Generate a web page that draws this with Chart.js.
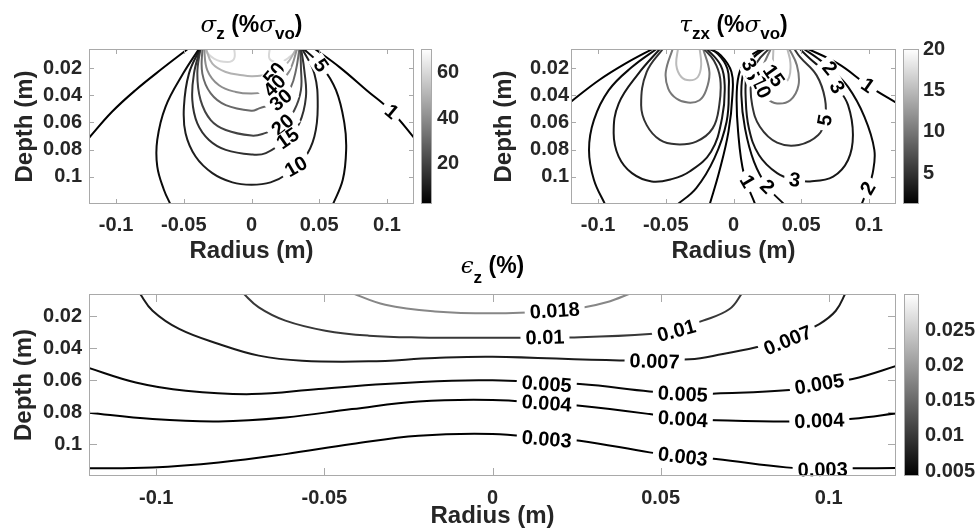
<!DOCTYPE html>
<html>
<head>
<meta charset="utf-8">
<title>Stress and strain contours</title>
<script src="https://cdn.jsdelivr.net/npm/chart.js@4.4.1/dist/chart.umd.min.js"></script>
<style>
    body { margin: 0; background: #fff; }
    #page { position: relative; width: 977px; height: 529px; overflow: hidden; background: #fff; }
    #page canvas { position: absolute; }
</style>
</head>
<body>
<div id="page">
    <canvas id="szChart" width="420" height="270" style="left:0;top:0"></canvas>
    <canvas id="szBar" width="75" height="270" style="left:415px;top:0"></canvas>
    <canvas id="tzChart" width="420" height="270" style="left:490px;top:0"></canvas>
    <canvas id="tzBar" width="80" height="270" style="left:897px;top:0"></canvas>
    <canvas id="ezChart" width="900" height="274" style="left:0;top:255px"></canvas>
    <canvas id="ezBar" width="80" height="274" style="left:897px;top:255px"></canvas>
</div>
<script>
// Axis ticks
const radiusTicks = [-0.1, -0.05, 0, 0.05, 0.1];
const depthTicks = [0.02, 0.04, 0.06, 0.08, 0.1];

// ---- sigma_z (% sigma_vo) contours, points are [radius, depth] in m ----
const szClim = [2, 70.6];
const szBarTicks = [20, 40, 60];
const sz1L = [[-0.121, 0.0725], [-0.103, 0.0522], [-0.0857, 0.0363], [-0.0659, 0.0204], [-0.0458, 0.005]];
const sz1R = [[0.0455, 0.005], [0.0652, 0.0195], [0.0852, 0.0365], [0.1035, 0.052], [0.121, 0.0725]];
const sz5L = [[-0.0382, 0.005], [-0.0505, 0.0241], [-0.0635, 0.0485], [-0.0696, 0.0729], [-0.0696, 0.0924], [-0.0647, 0.1095], [-0.0595, 0.121]];
const sz5R = [[0.0375, 0.005], [0.0513, 0.018], [0.0624, 0.0363], [0.0686, 0.0607], [0.0699, 0.0802], [0.0674, 0.1022], [0.0598, 0.121]];
const sz10 = [[-0.0376, 0.005], [-0.0462, 0.0241], [-0.0499, 0.0485], [-0.0487, 0.068], [-0.0413, 0.0851], [-0.0289, 0.0973], [-0.0141, 0.1041], [0, 0.1058],
              [0.0141, 0.1041], [0.0254, 0.0985], [0.039, 0.0863], [0.0464, 0.0705], [0.0489, 0.0485], [0.0464, 0.0241], [0.037, 0.005]];
const sz15 = [[-0.0376, 0.005], [-0.0425, 0.0241], [-0.0437, 0.0436], [-0.04, 0.0607], [-0.0314, 0.0729], [-0.019, 0.0802], [0, 0.0836],
              [0.0106, 0.0826], [0.0267, 0.0717], [0.0353, 0.0607], [0.0402, 0.0412], [0.039, 0.0217], [0.0365, 0.005]];
const sz20 = [[-0.0376, 0.005], [-0.04, 0.0241], [-0.0376, 0.0436], [-0.0301, 0.0583], [-0.019, 0.0656], [0, 0.0697],
              [0.0081, 0.0685], [0.023, 0.0619], [0.0316, 0.051], [0.0365, 0.0363], [0.0365, 0.0193], [0.036, 0.005]];
const sz30 = [[-0.0363, 0.005], [-0.0363, 0.0241], [-0.0301, 0.0387], [-0.019, 0.0473], [0, 0.0514],
              [0.0056, 0.0497], [0.0217, 0.0436], [0.0291, 0.0339], [0.0328, 0.0217], [0.0355, 0.005]];
const sz40 = [[-0.0351, 0.005], [-0.0326, 0.0217], [-0.024, 0.0327], [-0.0116, 0.0376], [0, 0.0388],
              [0.009, 0.0375], [0.017, 0.033], [0.0275, 0.023], [0.034, 0.005]];
const sz50 = [[-0.0339, 0.005], [-0.0289, 0.0168], [-0.019, 0.0229], [-0.0067, 0.0253], [0, 0.026],
              [0.008, 0.0255], [0.0167, 0.0238], [0.026, 0.017], [0.0335, 0.005]];
const sz60L = [[-0.0363, 0.005], [-0.0277, 0.0131], [-0.0178, 0.0156], [-0.0128, 0.0131], [-0.0128, 0.005]];
const sz60R = [[0.0135, 0.005], [0.0135, 0.0135], [0.021, 0.0155], [0.028, 0.012], [0.0355, 0.005]];
const szLabels = [['50', 0.0167, 0.0241, -50], ['40', 0.017, 0.033, -45], ['30', 0.0217, 0.0436, -40], ['20', 0.023, 0.0619, -40],
                  ['15', 0.0267, 0.0717, -35], ['10', 0.0328, 0.0925, -30], ['5', 0.0513, 0.018, 55], ['1', 0.1035, 0.052, 40]];

// ---- tau_zx (% sigma_vo) contours ----
const tzClim = [1.3, 20];
const tzBarTicks = [5, 10, 15, 20];
const tz1OutL = [[-0.121, 0.0455], [-0.0994, 0.029], [-0.0799, 0.0168], [-0.058, 0.005]];
const tz2OutL = [[-0.0555, 0.005], [-0.075, 0.0193], [-0.0921, 0.0363], [-0.1031, 0.0583], [-0.1067, 0.0802], [-0.1031, 0.1022], [-0.0945, 0.121]];
const tz3L = [[-0.0535, 0.005], [-0.0702, 0.0241], [-0.0848, 0.0461], [-0.0885, 0.068], [-0.0848, 0.0851], [-0.075, 0.0973], [-0.0604, 0.1034],
              [-0.045, 0.1015], [-0.0324, 0.0961], [-0.0166, 0.0815], [-0.0085, 0.0571], [-0.0065, 0.0327], [-0.0095, 0.018], [-0.0205, 0.005]];
const tz5L = [[-0.0515, 0.005], [-0.0641, 0.0229], [-0.0682, 0.0473], [-0.0641, 0.062], [-0.0543, 0.0729], [-0.0422, 0.0761], [-0.0275, 0.0741],
              [-0.0154, 0.0644], [-0.0105, 0.0473], [-0.0098, 0.0278], [-0.0145, 0.0144], [-0.0227, 0.005]];
const tz10L = [[-0.0446, 0.005], [-0.05, 0.0229], [-0.0482, 0.0351], [-0.0422, 0.0424], [-0.0336, 0.0454], [-0.0251, 0.0437],
               [-0.0202, 0.0363], [-0.0178, 0.0229], [-0.0227, 0.005]];
const tz15L = [[-0.0409, 0.005], [-0.0422, 0.018], [-0.0385, 0.0266], [-0.0324, 0.029], [-0.0263, 0.0266], [-0.0239, 0.018], [-0.0251, 0.005]];
const tz2InL = [[-0.0422, 0.121], [-0.0275, 0.1083], [-0.0141, 0.0863], [-0.0051, 0.0595], [-0.0035, 0.0351], [-0.0045, 0.0205], [-0.0117, 0.0095], [-0.0202, 0.005]];
const tz1InL = [[-0.0178, 0.121], [-0.0105, 0.0961], [-0.0037, 0.0668], [-0.0008, 0.04], [-0.0015, 0.0229], [-0.0093, 0.0107], [-0.019, 0.005]];
const tz1InR = [[0.0163, 0.121], [0.0078, 0.0985], [0.0034, 0.0668], [0.0024, 0.0376], [0.0049, 0.0217], [0.0114, 0.012], [0.0224, 0.005]];
const tz2InR = [[0.0382, 0.121], [0.0249, 0.1071], [0.0151, 0.0888], [0.0085, 0.0644], [0.0058, 0.04], [0.0075, 0.0229], [0.0139, 0.0132], [0.0236, 0.005]];
const tz3R = [[0.0245, 0.005], [0.0145, 0.012], [0.0098, 0.0229], [0.009, 0.042], [0.0114, 0.0644], [0.0188, 0.0839], [0.0322, 0.0973], [0.0451, 0.1022],
              [0.0565, 0.1034], [0.0736, 0.0998], [0.0846, 0.0876], [0.0882, 0.0693], [0.0846, 0.0473], [0.0765, 0.0339], [0.0663, 0.0217], [0.0565, 0.0132], [0.048, 0.005]];
const tz5R = [[0.027, 0.005], [0.0175, 0.0156], [0.013, 0.0302], [0.0138, 0.0473], [0.0195, 0.0632], [0.0322, 0.0749], [0.0482, 0.0766],
              [0.0626, 0.0693], [0.0675, 0.0583], [0.0675, 0.0424], [0.0614, 0.0254], [0.0492, 0.012], [0.0443, 0.005]];
const tz10R = [[0.028, 0.005], [0.0215, 0.02], [0.02, 0.0339], [0.0249, 0.0424], [0.0322, 0.0461], [0.0419, 0.0437], [0.048, 0.0327], [0.0468, 0.018], [0.0407, 0.005]];
const tz15R = [[0.0295, 0.005], [0.0292, 0.018], [0.0305, 0.0275], [0.036, 0.031], [0.041, 0.027], [0.042, 0.016], [0.0395, 0.005]];
const tz2OutR = [[0.0504, 0.005], [0.0626, 0.0132], [0.0711, 0.02], [0.0846, 0.0339], [0.0967, 0.0559], [0.104, 0.0802], [0.1028, 0.0973], [0.0992, 0.1083], [0.0943, 0.121]];
const tz1OutR = [[0.0529, 0.005], [0.0772, 0.0168], [0.0992, 0.0327], [0.121, 0.046]];
const tzLabels = [['15', 0.0297, 0.0255, 55], ['10', 0.0205, 0.034, 65], ['5', 0.0135, 0.0245, 65], ['3', 0.0115, 0.0175, 60],
                  ['2', 0.0711, 0.02, 50], ['3', 0.0765, 0.0339, 60], ['1', 0.0992, 0.0327, 35], ['5', 0.0675, 0.0583, -80],
                  ['3', 0.0451, 0.1022, 8], ['1', 0.0102, 0.1034, 60], ['2', 0.0249, 0.1071, 45], ['2', 0.0992, 0.1083, -60]];

// ---- epsilon_z (%) contours ----
const ezClim = [0.0043, 0.0302];
const ezBarTicks = [0.005, 0.01, 0.015, 0.02, 0.025];
const ez018 = [[-0.0423, 0.005], [-0.0319, 0.0127], [-0.0171, 0.0169], [0, 0.0181], [0.0171, 0.0168], [0.027, 0.0144], [0.0339, 0.0112], [0.0418, 0.005]];
const ez010 = [[-0.0744, 0.005], [-0.0695, 0.0144], [-0.0616, 0.0227], [-0.0497, 0.029], [-0.0368, 0.0321], [-0.022, 0.0332], [0, 0.0334],
               [0.023, 0.0332], [0.0467, 0.0311], [0.0547, 0.028], [0.0626, 0.0227], [0.0705, 0.0154], [0.0744, 0.005]];
const ez007 = [[-0.1051, 0.005], [-0.1011, 0.0165], [-0.0932, 0.0279], [-0.0814, 0.0373], [-0.0695, 0.0446], [-0.0566, 0.0478], [-0.0368, 0.0482],
               [-0.0171, 0.0461], [0, 0.0453], [0.0378, 0.0476], [0.0586, 0.0469], [0.0685, 0.0436], [0.0784, 0.0394], [0.0878, 0.0342],
               [0.0972, 0.0248], [0.1021, 0.0165], [0.1051, 0.005]];
const ez005 = [[-0.121, 0.0517], [-0.1061, 0.0614], [-0.0912, 0.0666], [-0.0715, 0.0687], [-0.0517, 0.0655], [-0.0319, 0.0624], [-0.0121, 0.0603],
               [0, 0.0601], [0.026, 0.0624], [0.0467, 0.067], [0.0566, 0.0687], [0.0665, 0.0683], [0.0883, 0.0662], [0.0972, 0.0624],
               [0.1071, 0.0593], [0.121, 0.0505]];
const ez004 = [[-0.121, 0.0801], [-0.1011, 0.0843], [-0.0814, 0.0858], [-0.0616, 0.0833], [-0.0418, 0.0781], [-0.022, 0.0733], [0, 0.0724],
               [0.0161, 0.0745], [0.026, 0.076], [0.0467, 0.0812], [0.0566, 0.0843], [0.0665, 0.0851], [0.0873, 0.0859], [0.0972, 0.0854],
               [0.1071, 0.0842], [0.121, 0.0805]];
const ez003 = [[-0.121, 0.1152], [-0.1011, 0.1146], [-0.0814, 0.1115], [-0.0616, 0.1063], [-0.0418, 0.1], [-0.022, 0.0948], [0, 0.0937],
               [0.0161, 0.0965], [0.026, 0.0979], [0.0467, 0.1052], [0.0566, 0.1079], [0.0665, 0.1094], [0.0873, 0.1146], [0.0982, 0.1155],
               [0.1071, 0.1152], [0.121, 0.115]];
const ezLabels = [['0.018', 0.0185, 0.0164, -4], ['0.01', 0.0156, 0.0332, -2], ['0.01', 0.0547, 0.029, -15],
                  ['0.007', 0.0482, 0.0482, 2], ['0.007', 0.0878, 0.0350, -22],
                  ['0.005', 0.0161, 0.0624, 4], ['0.005', 0.0566, 0.0687, 3], ['0.005', 0.0972, 0.0624, -9],
                  ['0.004', 0.0161, 0.0745, 4], ['0.004', 0.0566, 0.0843, 4], ['0.004', 0.0972, 0.0854, -2],
                  ['0.003', 0.0161, 0.0969, 5], ['0.003', 0.0566, 0.1079, 7], ['0.003', 0.0982, 0.1160, -1]];

const ink = '#262626';
const frameGray = '#a9a9a9';
const sans = '"Liberation Sans", Arial, Helvetica, sans-serif';
const tickFont = { family: sans, size: 20, weight: 'bold' };
const axisFont = { family: sans, size: 24, weight: 'bold', lineHeight: 1.1 };

function fmt(v) {
    return String(Number(Number(v).toFixed(4)));
}

function grayFor(level, clim) {
    const t = Math.max(0, Math.min(1, (level - clim[0]) / (clim[1] - clim[0])));
    const g = Math.round(t * 255);
    return `rgb(${g},${g},${g})`;
}

// labels written along the contours, on a white patch that breaks the line
const contourLabelPlugin = {
    id: 'contourLabels',
    afterDatasetsDraw(chart, args, opts) {
        if (!opts.labels) return;
        const { ctx, scales: { x, y } } = chart;
        ctx.save();
        ctx.font = `bold 20px ${sans}`;
        ctx.textAlign = 'center';
        ctx.textBaseline = 'middle';
        opts.labels.forEach(([txt, r, d, rot]) => {
            const w = ctx.measureText(txt).width;
            ctx.save();
            ctx.translate(x.getPixelForValue(r), y.getPixelForValue(d));
            ctx.rotate(rot * Math.PI / 180);
            ctx.fillStyle = '#fff';
            ctx.fillRect(-w / 2 - 5, -8, w + 10, 17);
            ctx.fillStyle = '#000';
            ctx.fillText(txt, 0, 1);
            ctx.restore();
        });
        ctx.restore();
    }
};

// MATLAB style box with inner tick marks
const framePlugin = {
    id: 'frame',
    afterDraw(chart, args, opts) {
        const { ctx, chartArea: a, scales: { x, y } } = chart;
        const len = opts.tick || 5;
        ctx.save();
        ctx.strokeStyle = frameGray;
        ctx.lineWidth = 1;
        ctx.beginPath();
        x.ticks.forEach(t => {
            const p = Math.round(x.getPixelForValue(t.value)) + 0.5;
            ctx.moveTo(p, a.top); ctx.lineTo(p, a.top + len);
            ctx.moveTo(p, a.bottom); ctx.lineTo(p, a.bottom - len);
        });
        y.ticks.forEach(t => {
            const p = Math.round(y.getPixelForValue(t.value)) + 0.5;
            ctx.moveTo(a.left, p); ctx.lineTo(a.left + len, p);
            ctx.moveTo(a.right, p); ctx.lineTo(a.right - len, p);
        });
        ctx.stroke();
        ctx.strokeRect(Math.round(a.left) + 0.5, Math.round(a.top) + 0.5, Math.round(a.width) - 1, Math.round(a.height) - 1);
        ctx.restore();
    }
};

// title with greek letters and subscripts
const richTitlePlugin = {
    id: 'richTitle',
    afterDraw(chart, args, opts) {
        if (!opts.parts) return;
        const { ctx, chartArea: a } = chart;
        const fonts = {
            n: `bold 23px ${sans}`,
            g: 'italic 23px "DejaVu Serif", "Liberation Serif", serif',
            s: `bold 17px ${sans}`
        };
        ctx.save();
        ctx.fillStyle = '#000';
        ctx.textBaseline = 'alphabetic';
        const widths = opts.parts.map(([t, f]) => { ctx.font = fonts[f]; return ctx.measureText(t).width; });
        let px = (a.left + a.right) / 2 - widths.reduce((s, w) => s + w, 0) / 2;
        opts.parts.forEach(([t, f], i) => {
            ctx.font = fonts[f];
            ctx.fillText(t, px, opts.baseline + (f === 's' ? opts.subDrop : 0));
            px += widths[i];
        });
        ctx.restore();
    }
};

// grey colour ramp of a colorbar
const colorbarPlugin = {
    id: 'colorbarFill',
    beforeDatasetsDraw(chart) {
        const { ctx, chartArea: a } = chart;
        const grad = ctx.createLinearGradient(0, a.bottom, 0, a.top);
        grad.addColorStop(0, '#000');
        grad.addColorStop(1, '#fff');
        ctx.save();
        ctx.fillStyle = grad;
        ctx.fillRect(a.left, a.top, a.width, a.height);
        ctx.strokeStyle = frameGray;
        ctx.lineWidth = 1;
        ctx.strokeRect(Math.round(a.left) + 0.5, Math.round(a.top) + 0.5, Math.round(a.width) - 1, Math.round(a.height) - 1);
        ctx.restore();
    }
};

function contourChart(id, cfg) {
    return new Chart(document.getElementById(id), {
        type: 'scatter',
        data: {
            datasets: cfg.pieces.map(([level, pts]) => ({
                data: pts.map(([r, d]) => ({ x: r, y: d })),
                showLine: true,
                borderColor: grayFor(level, cfg.clim),
                borderWidth: 2,
                pointRadius: 0,
                tension: 0.4,
                clip: 0
            }))
        },
        options: {
            responsive: false,
            animation: false,
            events: [],
            layout: { padding: cfg.padding },
            plugins: {
                legend: { display: false },
                tooltip: { enabled: false },
                contourLabels: { labels: cfg.labels },
                frame: { tick: cfg.tickLen },
                richTitle: { parts: cfg.title, baseline: cfg.titleBase, subDrop: cfg.subDrop }
            },
            scales: {
                x: {
                    type: 'linear', min: -0.12, max: 0.12,
                    afterBuildTicks: s => { s.ticks = radiusTicks.map(v => ({ value: v })); },
                    afterFit: s => { s.height = cfg.xHeight; },
                    grid: { display: false, drawTicks: false },
                    border: { display: false },
                    ticks: { font: tickFont, color: ink, padding: cfg.xTickPad, maxRotation: 0, autoSkip: false, callback: fmt },
                    title: { display: true, text: 'Radius (m)', font: axisFont, color: ink, padding: { top: 0, bottom: cfg.xTitlePad } }
                },
                y: {
                    type: 'linear', reverse: true, min: 0.006, max: 0.12,
                    afterBuildTicks: s => { s.ticks = depthTicks.map(v => ({ value: v })); },
                    afterFit: s => { s.width = cfg.yWidth; },
                    grid: { display: false, drawTicks: false },
                    border: { display: false },
                    ticks: { font: tickFont, color: ink, padding: cfg.yTickPad, autoSkip: false, callback: fmt },
                    title: { display: true, text: 'Depth (m)', font: axisFont, color: ink, padding: { top: cfg.yTitlePad, bottom: 0 } }
                }
            }
        },
        plugins: [contourLabelPlugin, framePlugin, richTitlePlugin]
    });
}

function colorbar(id, cfg) {
    return new Chart(document.getElementById(id), {
        type: 'scatter',
        data: { datasets: [] },
        options: {
            responsive: false,
            animation: false,
            events: [],
            layout: { padding: cfg.padding },
            plugins: { legend: { display: false }, tooltip: { enabled: false } },
            scales: {
                x: { display: false, min: 0, max: 1 },
                y: {
                    position: 'right', min: cfg.clim[0], max: cfg.clim[1],
                    afterBuildTicks: s => { s.ticks = cfg.ticks.map(v => ({ value: v })); },
                    afterFit: s => { s.width = cfg.width; },
                    grid: { display: false, drawTicks: false },
                    border: { display: false },
                    ticks: { font: tickFont, color: ink, padding: cfg.pad, autoSkip: false, callback: fmt }
                }
            }
        },
        plugins: [colorbarPlugin]
    });
}

contourChart('szChart', {
    clim: szClim,
    pieces: [[1, sz1L], [1, sz1R], [5, sz5L], [5, sz5R], [10, sz10], [15, sz15], [20, sz20],
             [30, sz30], [40, sz40], [50, sz50], [60, sz60L], [60, sz60R]],
    labels: szLabels,
    padding: { top: 49, right: 6, bottom: 0, left: 0 },
    xHeight: 66, yWidth: 89, xTickPad: 9, yTickPad: 7, xTitlePad: 5, yTitlePad: 12, tickLen: 5,
    title: [['σ', 'g'], ['z', 's'], [' (%', 'n'], ['σ', 'g'], ['vo', 's'], [')', 'n']],
    titleBase: 32, subDrop: 7
});
colorbar('szBar', { clim: szClim, ticks: szBarTicks, padding: { top: 49, right: 0, bottom: 66, left: 6 }, width: 58, pad: 5 });

contourChart('tzChart', {
    clim: tzClim,
    pieces: [[1, tz1OutL], [2, tz2OutL], [3, tz3L], [5, tz5L], [10, tz10L], [15, tz15L], [2, tz2InL], [1, tz1InL],
             [1, tz1InR], [2, tz2InR], [3, tz3R], [5, tz5R], [10, tz10R], [15, tz15R], [2, tz2OutR], [1, tz1OutR]],
    labels: tzLabels,
    padding: { top: 49, right: 14, bottom: 0, left: 0 },
    xHeight: 66, yWidth: 81, xTickPad: 9, yTickPad: 2, xTitlePad: 5, yTitlePad: 1, tickLen: 5,
    title: [['τ', 'g'], ['zx', 's'], [' (%', 'n'], ['σ', 'g'], ['vo', 's'], [')', 'n']],
    titleBase: 32, subDrop: 7
});
colorbar('tzBar', { clim: tzClim, ticks: tzBarTicks, padding: { top: 49, right: 0, bottom: 66, left: 6 }, width: 58, pad: 4 });

contourChart('ezChart', {
    clim: ezClim,
    pieces: [[0.018, ez018], [0.01, ez010], [0.007, ez007], [0.005, ez005], [0.004, ez004], [0.003, ez003]],
    labels: ezLabels,
    padding: { top: 39, right: 4, bottom: 0, left: 0 },
    xHeight: 53, yWidth: 89, xTickPad: 10, yTickPad: 7, xTitlePad: -1, yTitlePad: 11, tickLen: 8,
    title: [['ϵ', 'g'], ['z', 's'], [' (%)', 'n']],
    titleBase: 18, subDrop: 10
});
colorbar('ezBar', { clim: ezClim, ticks: ezBarTicks, padding: { top: 39, right: 0, bottom: 53, left: 7 }, width: 58, pad: 6 });
</script>
</body>
</html>
